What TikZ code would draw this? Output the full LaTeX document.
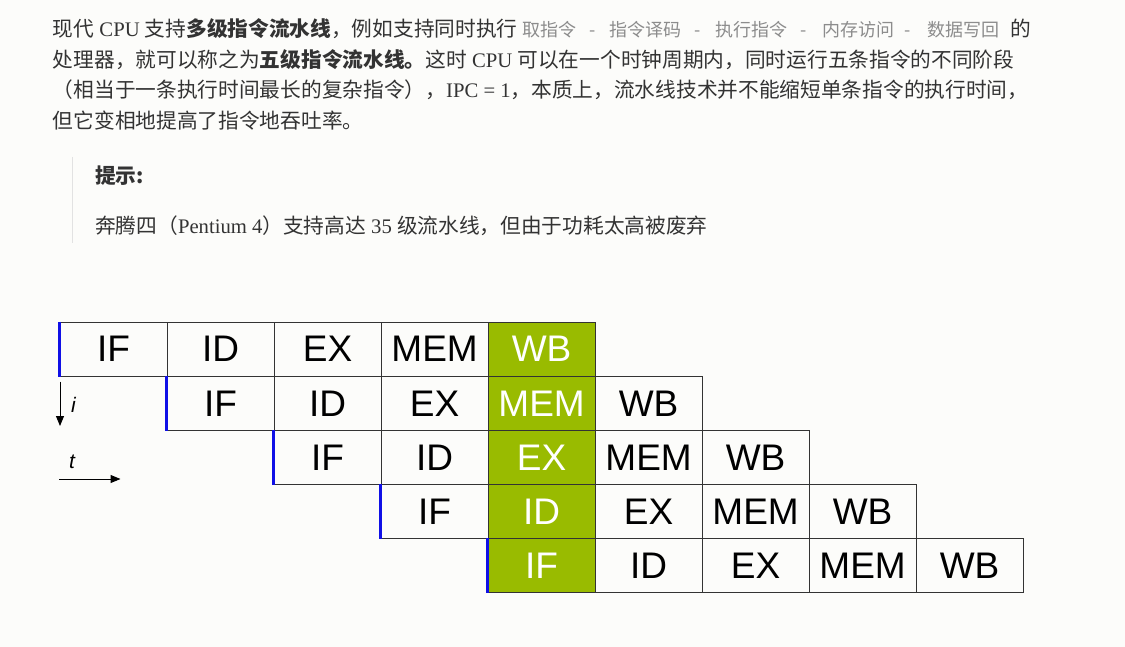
\documentclass[tikz,border=0pt]{standalone}
\usepackage{fontspec}
\setmainfont{Liberation Serif}
\newfontfamily\cjk{Noto Sans CJK SC}
\newfontfamily\arialf{Liberation Sans}
\usetikzlibrary{arrows.meta}
\definecolor{txt}{RGB}{51,51,51}
\definecolor{codegray}{RGB}{140,140,140}
\definecolor{pipegreen}{RGB}{153,187,0}
\definecolor{edgeblue}{RGB}{16,16,230}
\definecolor{bgcol}{RGB}{252,252,250}
\definecolor{quoteline}{RGB}{226,226,226}
\newcommand\zh[1]{{\cjk #1}}
\begin{document}
\begin{tikzpicture}[x=1pt,y=-1pt,
 para/.style={anchor=base west, inner sep=0pt, text=txt, font=\fontsize{20.7}{24}\selectfont},
 code/.style={anchor=base west, inner sep=0pt, text=codegray, font=\cjk\fontsize{18}{20}\selectfont},
 cell/.style={draw=black!80, line width=0.8pt, anchor=north west, minimum width=107pt, minimum height=54.1pt, inner sep=0pt, font=\arialf\fontsize{37}{40}\selectfont, text=black},
 hot/.style={fill=pipegreen, text=white},
 col4/.style={hot},
 axis/.style={draw=black, line width=1pt, -{Triangle[length=10pt,width=8pt]}},
 axlabel/.style={anchor=base west, inner sep=0pt, font=\arialf\itshape\fontsize{21}{22}\selectfont},
 lead/.style={draw=edgeblue, line width=3pt},
 quote/.style={draw=quoteline, line width=1.5pt}]
\useasboundingbox (0,0) rectangle (1125,647);
\fill[bgcol] (0,0) rectangle (1125,647);

% paragraph
\node[para] (l1) at (52.7,37) {\zh{现代} CPU \zh{支持}\zh{\bfseries 多级指令流水线}\zh{，例如支持同时执行}};
\node[code] (g1) at (522,36.5) {取指令};
\node[code] (d1) at (589,36.5) {-};
\node[code] (g2) at (609,36.5) {指令译码};
\node[code] (d2) at (694,36.5) {-};
\node[code] (g3) at (715,36.5) {执行指令};
\node[code] (d3) at (800,36.5) {-};
\node[code] (g4) at (822,36.5) {内存访问};
\node[code] (d4) at (904,36.5) {-};
\node[code] (g5) at (927,36.5) {数据写回};
\node[para] (l1b) at (1010,37) {\zh{的}};
\node[para] (l2) at (52.7,67.5) {\zh{处理器，就可以称之为}\zh{\bfseries 五级指令流水线。}\zh{这时} CPU \zh{可以在一个时钟周期内，同时运行五条指令的不同阶段}};
\node[para] (l3) at (52.7,98) {\zh{（相当于一条执行时间最长的复杂指令），}IPC = 1\zh{，本质上，流水线技术并不能缩短单条指令的执行时间，}};
\node[para] (l4) at (52.7,128.5) {\zh{但它变相地提高了指令地吞吐率。}};

% hint block
\coordinate (qa) at (72.3,157);
\coordinate (qb) at (72.3,243);
\draw[quote] (qa) -- (qb);
\node[para] (h1) at (95,183.5) {\zh{\bfseries 提示:}};
\node[para] (h2) at (95,234) {\zh{奔腾四（}Pentium 4\zh{）支持高达} 35 \zh{级流水线，但由于功耗太高被废弃}};

% pipeline
\foreach \r in {0,...,4}{
  \foreach \k/\lab in {0/IF,1/ID,2/EX,3/MEM,4/WB}{
    \pgfmathtruncatemacro\col{\r+\k}
    \node[cell, col\col/.try] (c\r\k) at ({59.7+107*\col},{321.8+54.1*\r}) {\lab};
  }
  \draw[lead] (c\r0.north west) -- (c\r0.south west);
}

% axes
\coordinate (ia) at (60,381.5);
\coordinate (ib) at (60,426);
\draw[axis] (ia) -- (ib);
\node[axlabel] (il) at (71,412) {i};
\coordinate (ta) at (59.3,479);
\coordinate (tb) at (120.5,479);
\draw[axis] (ta) -- (tb);
\node[axlabel] (tl) at (69,468) {t};
\end{tikzpicture}
\end{document}
